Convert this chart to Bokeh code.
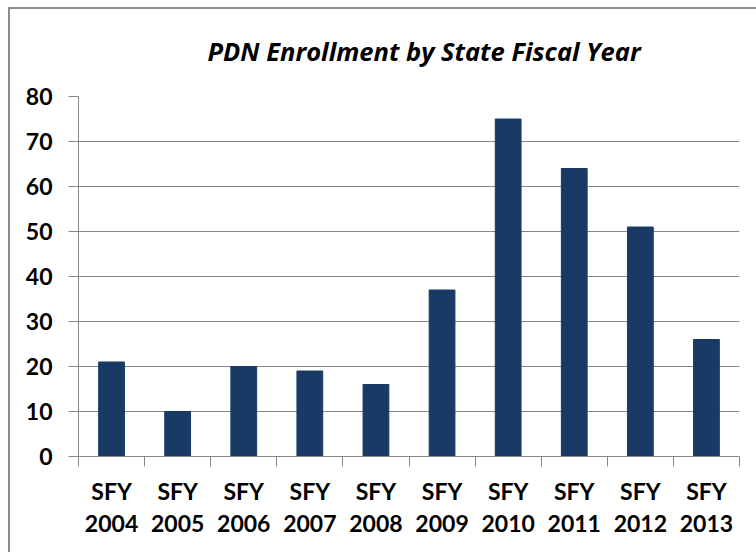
from bokeh.plotting import figure
from bokeh.models import FixedTicker, Title, Range1d
from bokeh.embed import file_html
from bokeh.resources import INLINE

# ---- data ----
years = ["2004", "2005", "2006", "2007", "2008", "2009", "2010", "2011", "2012", "2013"]
labels = ["SFY\n" + y for y in years]
enrollment = [21, 10, 20, 19, 16, 37, 75, 64, 51, 26]
y_ticks = [0, 10, 20, 30, 40, 50, 60, 70, 80]
title_text = "PDN Enrollment by State Fiscal Year"

n = len(years)
centers = [i + 0.5 for i in range(n)]
bounds = list(range(n + 1))

BAR = "#1A3A66"
GRAY = "#868686"
FONT = "Lato"

p = figure(width=756, height=552, x_range=Range1d(0, n), y_range=Range1d(0, 80),
           output_backend="svg", toolbar_location=None,
           min_border_left=78, min_border_right=17, min_border_top=96, min_border_bottom=96,
           title=None)
p.outline_line_color = None
p.background_fill_color = "white"
p.border_fill_color = None
p.styles = {"background": "white",
            "box-shadow": "inset 8px 7px 0 0 white, inset 10px 9px 0 0 #8c8c8c"}

p.vbar(x=centers, top=enrollment, width=0.39, color=BAR)

t = Title(text=title_text, align="left", text_font="Open Sans", text_font_style="bold italic",
          text_font_size="25.5px", text_color="black", standoff=57, offset=129)
p.add_layout(t, "above")

# x axis
xa = p.xaxis[0]
xa.ticker = FixedTicker(ticks=centers, minor_ticks=bounds)
xa.major_label_overrides = {c: l for c, l in zip(centers, labels)}
xa.major_tick_out = 0
xa.major_tick_in = 0
xa.minor_tick_out = 10
xa.minor_tick_in = 0
xa.minor_tick_line_color = GRAY
xa.axis_line_color = GRAY
xa.major_label_text_font = FONT
xa.major_label_text_font_style = "bold"
xa.major_label_text_font_size = "23px"
xa.major_label_text_color = "black"
xa.major_label_text_line_height = 1.15
xa.major_label_standoff = 10

# y axis
ya = p.yaxis[0]
ya.ticker = FixedTicker(ticks=y_ticks)
ya.major_tick_out = 10
ya.major_tick_in = 0
ya.minor_tick_line_color = None
ya.major_tick_line_color = GRAY
ya.axis_line_color = GRAY
ya.major_label_text_font = FONT
ya.major_label_text_font_style = "bold"
ya.major_label_text_font_size = "23px"
ya.major_label_text_color = "black"
ya.major_label_standoff = 16

p.xgrid.visible = False
p.ygrid.ticker = FixedTicker(ticks=y_ticks)
p.ygrid.grid_line_color = GRAY
p.ygrid.grid_line_width = 1

open("out.html", "w").write(file_html(p, INLINE))
